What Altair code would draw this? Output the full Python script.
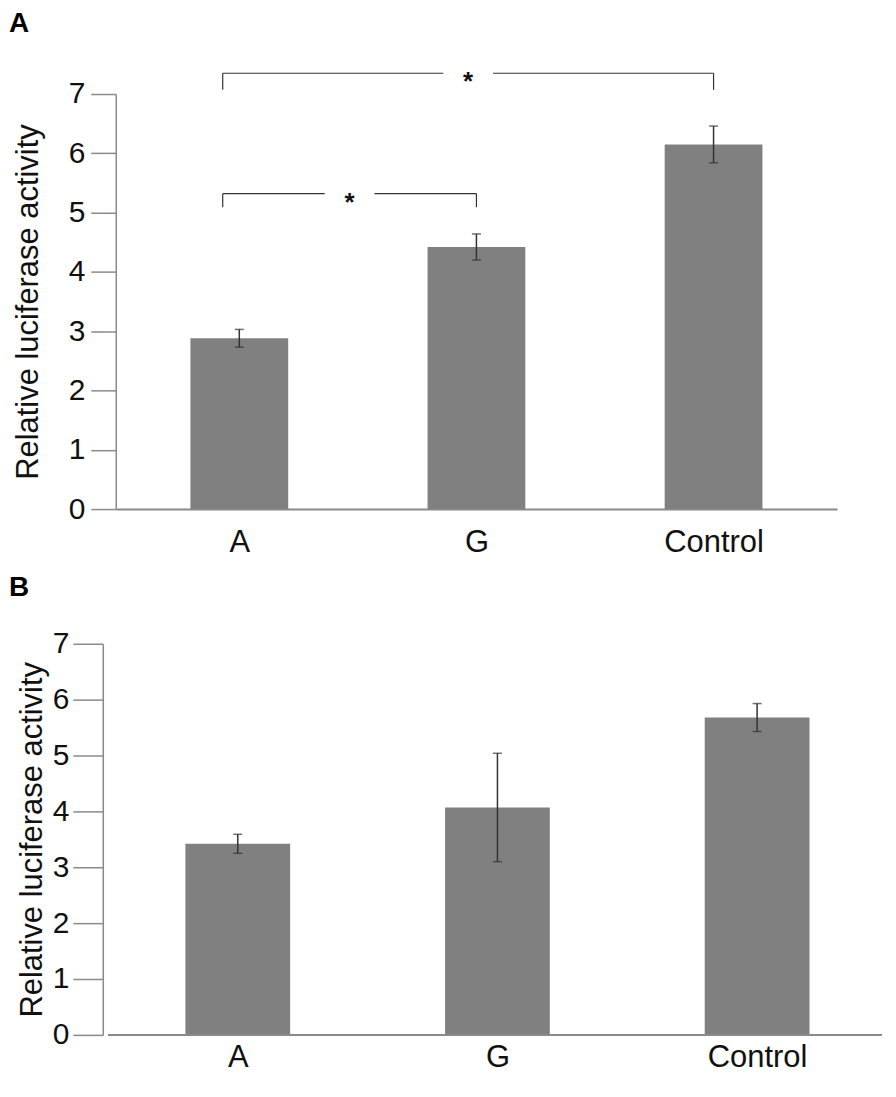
import altair as alt
import pandas as pd

FONT = "Liberation Sans"

categories = ["A", "G", "Control"]
positions = [0, 1, 2]

# Panel A
a_values = [2.88, 4.42, 6.15]
a_errors = [0.15, 0.22, 0.31]

# Panel B
b_values = [3.42, 4.07, 5.68]
b_errors = [0.17, 0.97, 0.25]

# Significance brackets (panel A)
bracket_from = [0, 0]
bracket_to = [2, 1]
bracket_height = [7.35, 5.32]
bracket_tip = [7.07, 5.09]
bracket_label = ["*", "*"]

YTITLE = "Relative luciferase activity"
label_expr = "[" + ",".join("'%s'" % c for c in categories) + "][datum.value]"


def bar_frame(values, errors):
    return pd.DataFrame({
        "pos": positions,
        "cat": categories,
        "value": values,
        "low": [v - e for v, e in zip(values, errors)],
        "high": [v + e for v, e in zip(values, errors)],
    })


def panel(df, letter, width, height, x_domain, bar_size, y_axis_kw, letter_offset,
          x_label_pad, extra=None, show_x_domain=True):
    x_enc = alt.X(
        "pos:Q",
        scale=alt.Scale(domain=x_domain, nice=False, zero=False),
        axis=alt.Axis(values=positions, labelExpr=label_expr, title=None, grid=False,
                      ticks=False, tickSize=0, labelPadding=x_label_pad, labelFontSize=31,
                      labelFont=FONT, labelColor="#111111", domain=show_x_domain,
                      domainColor="#8a8a8a", domainWidth=2),
    )
    y_enc = alt.Y(
        "value:Q",
        scale=alt.Scale(domain=[0, 7], nice=False),
        axis=alt.Axis(values=list(range(8)), format="d", title=YTITLE, grid=False,
                      labelFontSize=30, labelFont=FONT, labelColor="#111111",
                      titleFontSize=31, titleFont=FONT, titleFontWeight="normal",
                      titleColor="#111111", tickColor="#8a8a8a", tickWidth=1.5,
                      domainColor="#8a8a8a", domainWidth=1.5, **y_axis_kw),
    )
    x_plain = alt.X("pos:Q", title=None)
    bars = alt.Chart(df).mark_bar(size=bar_size, color="#808080", orient="vertical").encode(
        x=x_enc, y=y_enc)
    whisk = alt.Chart(df).mark_rule(color="#333333", strokeWidth=1.5).encode(
        x=x_plain, y=alt.Y("low:Q", title=YTITLE), y2="high:Q")
    cap_lo = alt.Chart(df).mark_tick(orient="horizontal", size=9, thickness=1.5,
                                     color="#333333").encode(
        x=x_plain, y=alt.Y("low:Q", title=YTITLE))
    cap_hi = alt.Chart(df).mark_tick(orient="horizontal", size=9, thickness=1.5,
                                     color="#333333").encode(
        x=x_plain, y=alt.Y("high:Q", title=YTITLE))
    layers = [bars, whisk, cap_lo, cap_hi] + (extra or [])
    return alt.layer(*layers).properties(
        width=width, height=height,
        title=alt.TitleParams(text=letter, anchor="start", frame="group", dx=-107,
                              fontSize=28, fontWeight="bold", font=FONT, color="#000000",
                              offset=letter_offset),
    )


# bracket segments
seg_rows = []
star_rows = []
LEFT_SHIFT = -0.07
GAP = 0.105
for f, t, h, tip, lab in zip(bracket_from, bracket_to, bracket_height, bracket_tip, bracket_label):
    x1 = f + LEFT_SHIFT
    x2 = t
    mid = (x1 + x2) / 2
    seg_rows.append({"x": x1, "x2": x1, "y": tip, "y2": h})
    seg_rows.append({"x": x2, "x2": x2, "y": tip, "y2": h})
    seg_rows.append({"x": x1, "x2": mid - GAP, "y": h, "y2": h})
    seg_rows.append({"x": mid + GAP, "x2": x2, "y": h, "y2": h})
    star_rows.append({"x": mid, "y": h, "label": lab})
seg_df = pd.DataFrame(seg_rows)
star_df = pd.DataFrame(star_rows)

brackets = alt.Chart(seg_df).mark_rule(color="#333333", strokeWidth=1.2).encode(
    x=alt.X("x:Q", title=None), x2="x2:Q", y=alt.Y("y:Q", title=YTITLE), y2="y2:Q")
stars = alt.Chart(star_df).mark_text(fontSize=26, font=FONT, fontWeight="bold",
                                     color="#111111", dy=9).encode(
    x=alt.X("x:Q", title=None), y=alt.Y("y:Q", title=YTITLE), text="label:N")

chart_a = panel(bar_frame(a_values, a_errors), "A", 723, 416, [-0.5, 2.5], 98,
                dict(tickSize=25, labelPadding=6, titlePadding=24), 31, 19,
                extra=[brackets, stars])

# Panel B: axis line drawn across the full x extent
B_UNIT = 263.7
b_left = -0.5 + 13 / B_UNIT
b_right = 2.5 - 5 / B_UNIT
b_axis_df = pd.DataFrame({"x": [-0.5], "x2": [b_right], "y": [0]})
b_axis = alt.Chart(b_axis_df).mark_rule(color="#8a8a8a", strokeWidth=2).encode(
    x=alt.X("x:Q", title=None), x2="x2:Q", y=alt.Y("y:Q", title=YTITLE))
chart_b = panel(bar_frame(b_values, b_errors), "B", 773, 392, [b_left, b_right], 105,
                dict(tickSize=30, labelPadding=4, titlePadding=4, offset=13), 27, 8,
                extra=[b_axis], show_x_domain=False)

chart = alt.vconcat(chart_a, chart_b, spacing=14).properties(
    padding={"left": 0, "top": 0, "right": 0, "bottom": 0}
).configure(font=FONT).configure_view(stroke="transparent")

chart.save("out.html", embed_options={"renderer": "svg", "actions": False})
